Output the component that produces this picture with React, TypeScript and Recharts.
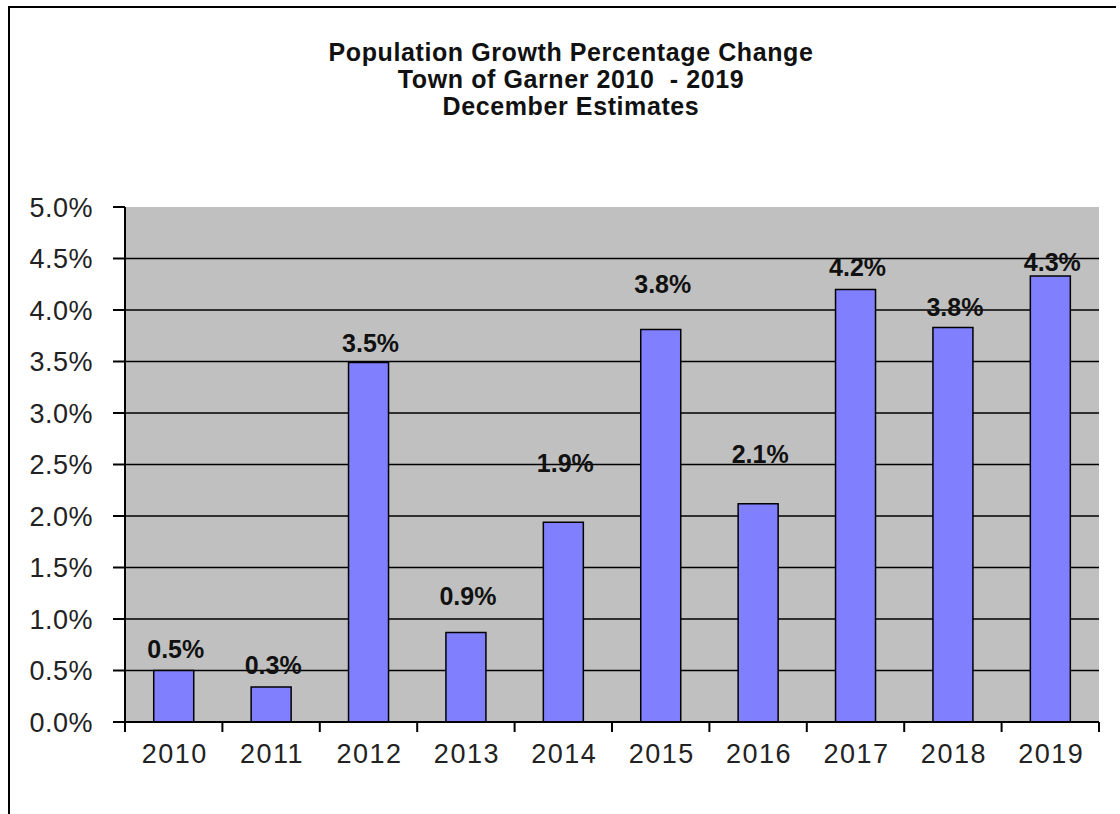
import { BarChart, Bar, XAxis, YAxis, CartesianGrid, LabelList } from 'recharts';

const years = ['2010', '2011', '2012', '2013', '2014', '2015', '2016', '2017', '2018', '2019'];
const growth = [0.5, 0.34, 3.49, 0.87, 1.94, 3.81, 2.12, 4.2, 3.83, 4.33];
const yTicks = [0, 0.5, 1, 1.5, 2, 2.5, 3, 3.5, 4, 4.5, 5];
const titleLines = ['Population Growth Percentage Change', 'Town of Garner 2010  - 2019', 'December Estimates'];

// how far each data label sits above its bar (px), as placed in the original
const LABEL_LIFT = [22, 22, 20, 36, 59, 46, 50, 22, 21, 14];

const FONT = '"Liberation Sans", Arial, sans-serif';
const W = 1120;
const H = 814;
const MARGIN = { top: 207, right: 21, left: 0, bottom: 42 };
const Y_AXIS_W = 125;
const BAND = (W - MARGIN.left - MARGIN.right - Y_AXIS_W) / years.length;
const X_TICK_MARGIN = 22;

const data = years.map((year, i) => ({ year, value: growth[i] }));

const renderLabel = (props: any) => {
  const { x, y, width, value, index } = props;
  const i = typeof index === 'number' ? index : growth.indexOf(value);
  return (
    <text
      x={Number(x) + Number(width) / 2 + 2}
      y={Number(y) - LABEL_LIFT[i]}
      textAnchor="middle"
      dominantBaseline="central"
      fontFamily={FONT}
      fontWeight="bold"
      fontSize={25}
      fill="#111"
    >
      {`${Number(value).toFixed(1)}%`}
    </text>
  );
};

// category label plus Excel-style tick marks on the category boundaries
const renderYearTick = (props: any) => {
  const { x, y, payload, index } = props;
  const axisY = y - X_TICK_MARGIN;
  const left = x - BAND / 2;
  return (
    <g>
      <line x1={left} x2={left} y1={axisY} y2={axisY + 10} stroke="#000" strokeWidth={2} />
      {index === years.length - 1 && (
        <line x1={x + BAND / 2} x2={x + BAND / 2} y1={axisY} y2={axisY + 10} stroke="#000" strokeWidth={2} />
      )}
      <text
        x={x + 1}
        y={y}
        dy="0.71em"
        textAnchor="middle"
        fontFamily={FONT}
        fontSize={27}
        letterSpacing={1.5}
        fill="#222"
      >
        {payload.value}
      </text>
    </g>
  );
};

export default function App() {
  return (
    <div style={{ position: 'fixed', left: 0, top: 0, width: W, height: H, background: '#fff', overflow: 'hidden' }}>
      <div style={{ position: 'absolute', left: 8, top: 6, right: 4, bottom: -10, borderLeft: '2px solid #000', borderTop: '2px solid #000' }} />
      <div style={{ position: 'absolute', left: 0, width: 1142, top: 39, textAlign: 'center', fontFamily: FONT, fontWeight: 'bold', fontSize: 25, letterSpacing: 0.6, lineHeight: '27px', color: '#111' }}>
        {titleLines.map(l => (
          <div key={l} style={{ whiteSpace: 'pre' }}>{l}</div>
        ))}
      </div>
      <div style={{ position: 'absolute', left: 0, top: 0 }}>
        <BarChart
          width={W}
          height={H}
          data={data}
          margin={MARGIN}
          barCategoryGap="29.5%"
        >
          <CartesianGrid
            vertical={false}
            horizontalValues={[0.5, 1, 1.5, 2, 2.5, 3, 3.5, 4, 4.5]}
            stroke="#000"
            strokeWidth={1.5}
            fill="#c0c0c0"
            fillOpacity={1}
            yAxisId="left"
            xAxisId="cat"
          />
          <XAxis
            xAxisId="cat"
            dataKey="year"
            height={50}
            axisLine={{ stroke: '#000', strokeWidth: 2 }}
            tickLine={false}
            tickSize={0}
            tickMargin={X_TICK_MARGIN}
            interval={0}
            tick={renderYearTick}
          />
          <XAxis xAxisId="top" orientation="top" dataKey="year" height={0} tick={false} tickLine={false} axisLine={{ stroke: '#8a8a8a', strokeWidth: 2 }} />
          <YAxis
            yAxisId="left"
            domain={[0, 5]}
            ticks={yTicks}
            width={Y_AXIS_W}
            tickSize={12}
            tickMargin={20}
            tickFormatter={(v: number) => `${v.toFixed(1)}%`}
            axisLine={{ stroke: '#000', strokeWidth: 2 }}
            tickLine={{ stroke: '#000', strokeWidth: 2 }}
            tick={{ fontFamily: FONT, fontSize: 27, letterSpacing: 0.5, fill: '#222' }}
            interval={0}
          />
          <YAxis yAxisId="right" orientation="right" domain={[0, 5]} width={0} tick={false} tickLine={false} axisLine={{ stroke: '#8a8a8a', strokeWidth: 2 }} />
          <Bar
            dataKey="value"
            xAxisId="cat"
            yAxisId="left"
            fill="#8080ff"
            stroke="#000"
            strokeWidth={1.5}
            isAnimationActive={false}
          >
            <LabelList dataKey="value" content={renderLabel} />
          </Bar>
        </BarChart>
      </div>
    </div>
  );
}
